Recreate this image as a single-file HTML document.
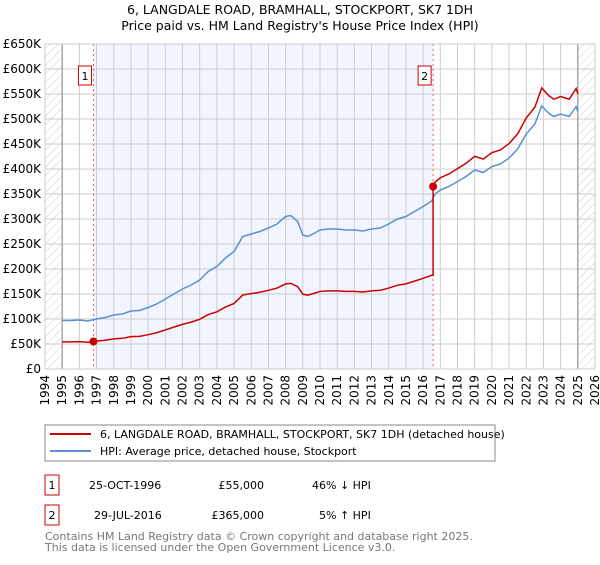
<!DOCTYPE html>
<html><head><meta charset="utf-8"><style>
body{margin:0;background:#fff;}
svg{font-family:"DejaVu Sans","Liberation Sans",sans-serif;}
</style></head><body>
<svg id="c" width="600" height="560" xmlns="http://www.w3.org/2000/svg">
<defs><pattern id="h" width="6" height="6" patternUnits="userSpaceOnUse" patternTransform="rotate(45)"><line x1="0" y1="0" x2="0" y2="6" stroke="#ccc" stroke-width="1"/></pattern></defs>
<text x="300" y="14" font-size="12.5" text-anchor="middle">6, LANGDALE ROAD, BRAMHALL, STOCKPORT, SK7 1DH</text>
<text x="300" y="30" font-size="12.5" text-anchor="middle">Price paid vs. HM Land Registry's House Price Index (HPI)</text>
<g id="plot"></g>
<rect x="45" y="425" width="450" height="36" fill="#fff" stroke="#888"/>
<line x1="50" y1="434" x2="91" y2="434" stroke="#cc0000" stroke-width="2"/>
<text x="100" y="438" font-size="11">6, LANGDALE ROAD, BRAMHALL, STOCKPORT, SK7 1DH (detached house)</text>
<line x1="50" y1="451" x2="91" y2="451" stroke="#5b8fd1" stroke-width="2"/>
<text x="100" y="455" font-size="11">HPI: Average price, detached house, Stockport</text>
<g font-size="11">
<rect x="45" y="475" width="14" height="20" fill="none" stroke="#cc0000"/>
<text x="52" y="489" text-anchor="middle">1</text>
<text x="89" y="489">25-OCT-1996</text>
<text x="264" y="489" text-anchor="end">£55,000</text>
<text x="312" y="489">46% ↓ HPI</text>
<rect x="45" y="505" width="14" height="20" fill="none" stroke="#cc0000"/>
<text x="52" y="519" text-anchor="middle">2</text>
<text x="94" y="519">29-JUL-2016</text>
<text x="264" y="519" text-anchor="end">£365,000</text>
<text x="319" y="519">5% ↑ HPI</text>
</g>
<text x="45" y="540" font-size="11" fill="#777">Contains HM Land Registry data © Crown copyright and database right 2025.</text>
<text x="45" y="551" font-size="11" fill="#777">This data is licensed under the Open Government Licence v3.0.</text>
</svg>
<script>
const hpiYears=[1995,1995.5,1996,1996.5,1997,1997.5,1998,1998.5,1999,1999.5,2000,2000.5,2001,2001.5,2002,2002.5,2003,2003.5,2004,2004.5,2005,2005.5,2006,2006.5,2007,2007.5,2008,2008.3,2008.7,2009,2009.3,2009.7,2010,2010.5,2011,2011.5,2012,2012.5,2013,2013.5,2014,2014.5,2015,2015.5,2016,2016.5,2016.7,2017,2017.5,2018,2018.5,2019,2019.5,2020,2020.5,2021,2021.5,2022,2022.5,2022.9,2023.3,2023.6,2024,2024.5,2024.9,2025];
const hpiValues=[97,97,98,96,100,103,108,110,116,117,123,130,140,150,160,168,178,195,205,222,235,265,270,275,282,290,305,307,295,268,265,272,278,280,280,278,278,276,280,282,290,300,305,315,325,336,350,358,365,375,385,398,393,405,410,422,440,470,490,526,512,505,510,505,525,515];
const saleYears=[1996.82,2016.58];
const saleValues=[55,365];
const yTicks=[0,50,100,150,200,250,300,350,400,450,500,550,600,650];
const yTickLabels=["£0","£50K","£100K","£150K","£200K","£250K","£300K","£350K","£400K","£450K","£500K","£550K","£600K","£650K"];
const xTicks=[1994,1995,1996,1997,1998,1999,2000,2001,2002,2003,2004,2005,2006,2007,2008,2009,2010,2011,2012,2013,2014,2015,2016,2017,2018,2019,2020,2021,2022,2023,2024,2025,2026];
const X0=45,X1=595,Y0=369,Y1=44;
const xs=y=>X0+(y-1994)/32*(X1-X0);
const ys=v=>Y0-v/650*(Y0-Y1);
const NS="http://www.w3.org/2000/svg";
const g=document.getElementById('plot');
function mk(t,a){const e=document.createElementNS(NS,t);for(const k in a)e.setAttribute(k,a[k]);g.appendChild(e);return e;}
let e;
e=mk('rect',{x:xs(saleYears[0]),y:Y1,width:xs(saleYears[1])-xs(saleYears[0]),height:Y0-Y1,fill:'#f2f5fd'});


e=mk('rect',{x:X0,y:Y1,width:xs(1995)-X0,height:Y0-Y1,fill:'url(#h)'});


e=mk('rect',{x:xs(2025),y:Y1,width:X1-xs(2025),height:Y0-Y1,fill:'url(#h)'});


xTicks.forEach(t=>{
 e=mk('line',{x1:xs(t),x2:xs(t),y1:Y1,y2:Y0,stroke:'#ccc'});
 
 
 e=mk('text',{x:0,y:0,'font-size':12,'text-anchor':'end',transform:`translate(${xs(t)+4},${Y0+6}) rotate(-90)`});
 e.textContent=t;
 
 
});
yTicks.forEach((t,i)=>{
 e=mk('line',{x1:X0,x2:X1,y1:ys(t),y2:ys(t),stroke:'#ccc'});
 
 
 e=mk('text',{x:X0-4,y:ys(t)+4,'font-size':12,'text-anchor':'end'});
 e.textContent=yTickLabels[i];
 
 
});
e=mk('line',{x1:xs(1995),x2:xs(1995),y1:Y1,y2:Y0,stroke:'#888'});


e=mk('line',{x1:xs(2025),x2:xs(2025),y1:Y1,y2:Y0,stroke:'#888'});


saleYears.forEach((s,i)=>{
 e=mk('line',{x1:xs(s),x2:xs(s),y1:Y1,y2:Y0,stroke:'#f06060','stroke-dasharray':'2,3'});
 
 
});
function interp(y){for(let i=1;i<hpiYears.length;i++){if(y<=hpiYears[i]){const t=(y-hpiYears[i-1])/(hpiYears[i]-hpiYears[i-1]);return hpiValues[i-1]+t*(hpiValues[i]-hpiValues[i-1]);}}return hpiValues[hpiValues.length-1];}
e=mk('polyline',{points:hpiYears.map((y,i)=>xs(y)+','+ys(hpiValues[i])).join(' '),fill:'none',stroke:'#5b8fd1','stroke-width':1.5});


const r1=saleValues[0]/interp(saleYears[0]), r2=saleValues[1]/interp(saleYears[1]);
let pts=[];let lastPre=0;
hpiYears.forEach((y,i)=>{if(y<saleYears[1]){pts.push([y,hpiValues[i]*r1]);lastPre=hpiValues[i]*r1;}});
pts.push([saleYears[1],lastPre]);
pts.push([saleYears[1],saleValues[1]]);
hpiYears.forEach((y,i)=>{if(y>saleYears[1])pts.push([y,hpiValues[i]*r2]);});
e=mk('polyline',{points:pts.map(p=>xs(p[0])+','+ys(p[1])).join(' '),fill:'none',stroke:'#cc0000','stroke-width':1.5});


saleYears.forEach((s,i)=>{
 e=mk('circle',{cx:xs(s),cy:ys(saleValues[i]),r:4,fill:'#cc0000'});
 
 
 e=mk('rect',{x:xs(s)-15,y:66,width:13,height:19,fill:'#fff',stroke:'#cc0000'});
 
 
 e=mk('text',{x:xs(s)-8.5,y:80,'font-size':11,'text-anchor':'middle'});
 e.textContent=i+1;
 
 
});
e=mk('rect',{x:X0,y:Y1,width:X1-X0,height:Y0-Y1,fill:'none',stroke:'#ccc'});


</script>
</body></html>
